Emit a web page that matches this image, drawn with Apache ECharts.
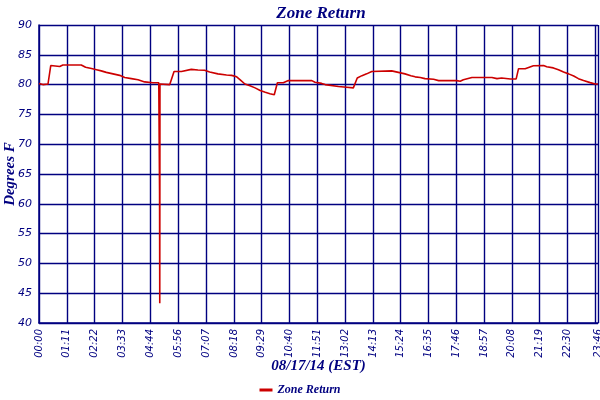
<!DOCTYPE html>
<html><head><meta charset="utf-8">
<script src="https://cdn.jsdelivr.net/npm/echarts@6/dist/echarts.min.js"></script>
<style>html,body{margin:0;padding:0;background:#fff}#c{width:600px;height:400px}</style>
</head><body><div id="c"></div>
<script>
const minutes = [0,10,15,23,27,30,53,61,108,119,134,147,159,172,189,206,219,236,253,270,291,306,308,308.5,309,334,338,345,364,389,406,423,436,457,479,492,505,514,526,539,552,565,578,590,601,603,609,624,629,637,697,705,722,731,765,786,803,808,813,825,837,850,854,901,918,935,950,961,974,986,1008,1021,1067,1076,1084,1106,1127,1131,1140,1157,1170,1182,1204,1219,1225,1242,1246,1263,1289,1297,1314,1327,1340,1353,1366,1378,1391,1408,1421,1428];
const temps = [80.2,80.0,80.2,80.1,80.2,83.2,83.05,83.3,83.3,82.9,82.7,82.5,82.3,82.05,81.8,81.55,81.2,81.0,80.8,80.45,80.3,80.3,61.8,43.3,80.1,80.0,79.7,82.2,82.2,82.55,82.45,82.4,82.1,81.8,81.6,81.55,81.3,80.8,80.1,79.8,79.45,79.0,78.7,78.45,78.3,78.3,80.3,80.3,80.55,80.67,80.67,80.4,80.2,80.0,79.67,79.55,79.45,79.5,81.1,81.5,81.8,82.2,82.3,82.3,82.05,81.8,81.5,81.3,81.2,81.0,80.9,80.67,80.67,80.55,80.8,81.2,81.2,81.0,81.2,81.2,81.0,81.1,80.95,80.95,82.67,82.67,82.9,83.17,83.2,83.0,82.8,82.5,82.1,81.8,81.45,81.0,80.67,80.33,80.1,80.1];
const tickLabels = ['00:00','01:11','02:22','03:33','04:44','05:56','07:07','08:18','09:29','10:40','11:51','13:02','14:13','15:24','16:35','17:46','18:57','20:08','21:19','22:30','23:41','23:46'];
const tickMinutes = [0,71,142,213,284,356,427,498,569,640,711,782,853,924,995,1066,1137,1208,1279,1350,1421,1428];
const seriesName = 'Zone Return';
const navy = '#000080';
const data = minutes.map((m,i)=>[m,temps[i]]);
const labelFor = v => { let b=0; tickMinutes.forEach((t,i)=>{ if(Math.abs(t-v)<Math.abs(tickMinutes[b]-v)) b=i; }); return tickLabels[b]; };
const chart = echarts.init(document.getElementById('c'));
chart.setOption({
  animation:false,
  backgroundColor:'#fff',
  title:{text:'Zone Return',left:316,top:0,textAlign:'center',
    textStyle:{color:navy,fontFamily:'Liberation Serif',fontStyle:'italic',fontWeight:'bold',fontSize:17}},
  legend:{bottom:-1,left:'center',icon:'rect',itemWidth:13,itemHeight:3,itemGap:4,
    data:[seriesName],
    textStyle:{color:navy,fontFamily:'Liberation Serif',fontStyle:'italic',fontWeight:'bold',fontSize:12}},
  grid:{left:39,right:2,top:25,bottom:77,containLabel:false,outerBoundsMode:'none'},
  xAxis:{type:'value',min:0,max:1428,
    name:'08/17/14 (EST)',nameLocation:'middle',nameGap:36,nameMoveOverlap:false,
    nameTextStyle:{color:navy,fontFamily:'Liberation Serif',fontStyle:'italic',fontWeight:'bold',fontSize:15},
    axisLine:{show:true,lineStyle:{color:navy,width:1.5}},
    axisTick:{show:false,customValues:tickMinutes},
    axisLabel:{rotate:90,margin:6,color:navy,fontFamily:'DejaVu Sans',fontStyle:'italic',fontSize:10,
      customValues:tickMinutes,showMinLabel:true,showMaxLabel:true,hideOverlap:false,
      formatter:v=>labelFor(v)},
    splitLine:{show:true,lineStyle:{color:navy,width:1.4}}},
  yAxis:{type:'value',min:40,max:90,interval:5,
    name:'Degrees F',nameLocation:'middle',nameGap:21,nameRotate:90,nameMoveOverlap:false,
    nameTextStyle:{color:navy,fontFamily:'Liberation Serif',fontStyle:'italic',fontWeight:'bold',fontSize:15},
    axisLine:{show:true,lineStyle:{color:navy,width:1.5}},
    axisTick:{show:false},
    axisLabel:{margin:7,color:navy,fontFamily:'DejaVu Sans',fontStyle:'italic',fontSize:11},
    splitLine:{show:true,lineStyle:{color:navy,width:1.4}}},
  series:[{name:seriesName,type:'line',data:data,showSymbol:false,symbol:'none',
    itemStyle:{color:'#cc0000'},lineStyle:{color:'#cc0000',width:1.6}}]
});
</script></body></html>
